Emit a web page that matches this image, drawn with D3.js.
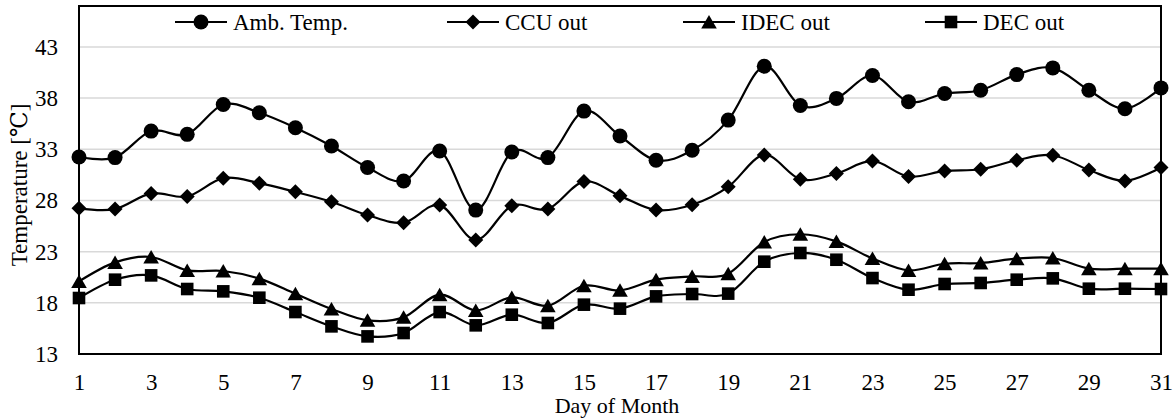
<!DOCTYPE html>
<html>
<head>
<meta charset="utf-8">
<script src="https://cdn.jsdelivr.net/npm/d3@7"></script>
<style>
    body { margin: 0; background: #fff; }
    svg text { font-family: "Times New Roman", "Liberation Serif", Tinos, "DejaVu Serif", serif; fill: #000; }
</style>
</head>
<body>
<div id="chart"></div>
<script>
const days = d3.range(1, 32);
const xTicks = [1, 3, 5, 7, 9, 11, 13, 15, 17, 19, 21, 23, 25, 27, 29, 31];
const yTicks = [13, 18, 23, 28, 33, 38, 43];

const ambTemp = [32.25, 32.19, 34.78, 34.46, 37.38, 36.57, 35.11, 33.32, 31.22, 29.9, 32.84, 27.06, 32.74, 32.19, 36.73, 34.3,
    31.93, 32.9, 35.85, 41.11, 37.28, 37.97, 40.21, 37.64, 38.45, 38.77, 40.3, 40.95, 38.77, 36.96, 39.0];
const ccuOut = [27.23, 27.16, 28.69, 28.39, 30.18, 29.69, 28.84, 27.87, 26.57, 25.83, 27.55, 24.14, 27.48, 27.16, 29.85, 28.45,
    27.06, 27.58, 29.33, 32.45, 30.08, 30.63, 31.86, 30.34, 30.89, 31.05, 31.93, 32.42, 30.98, 29.91, 31.22];
const idecOut = [20.09, 21.95, 22.48, 21.17, 21.11, 20.36, 18.89, 17.4, 16.29, 16.58, 18.8, 17.26, 18.53, 17.72, 19.67, 19.22,
    20.26, 20.58, 20.85, 23.94, 24.7, 24.0, 22.34, 21.17, 21.82, 21.89, 22.31, 22.38, 21.34, 21.34, 21.34];
const decOut = [18.47, 20.26, 20.68, 19.35, 19.12, 18.5, 17.1, 15.7, 14.72, 15.05, 17.1, 15.8, 16.84, 16.03, 17.82, 17.43,
    18.63, 18.86, 18.9, 22.02, 22.87, 22.21, 20.42, 19.28, 19.84, 19.94, 20.26, 20.39, 19.38, 19.38, 19.35];

const seriesNames = ['Amb. Temp.', 'CCU out', 'IDEC out', 'DEC out'];
const seriesValues = [ambTemp, ccuOut, idecOut, decOut];
const seriesMarkers = ['circle', 'diamond', 'triangle', 'square'];

const width = 1176, height = 418;
const margin = { top: 6, right: 15, bottom: 64, left: 79 };
const serif = '"Times New Roman", "Liberation Serif", Tinos, "DejaVu Serif", serif';

const svg = d3.select('#chart')
    .append('svg')
    .attr('width', width)
    .attr('height', height)
    .attr('font-family', serif);

const x = d3.scaleLinear().domain([1, 31]).range([margin.left, width - margin.right]);
const y = d3.scaleLinear().domain([13, 47]).range([height - margin.bottom, margin.top]);

// gridlines
svg.append('g')
    .selectAll('line')
    .data(yTicks.filter(t => t > 13))
    .join('line')
    .attr('x1', x(1)).attr('x2', x(31))
    .attr('y1', d => y(d)).attr('y2', d => y(d))
    .attr('stroke', '#d9d9d9')
    .attr('stroke-width', 1.5);

// axes (labels only, no tick marks)
const yAxis = svg.append('g')
    .attr('transform', `translate(${margin.left},0)`)
    .call(d3.axisLeft(y).tickValues(yTicks).tickSize(0).tickPadding(21))
    .attr('font-family', serif)
    .attr('font-size', 23);
yAxis.select('.domain').remove();

const xAxis = svg.append('g')
    .attr('transform', `translate(0,${height - margin.bottom})`)
    .call(d3.axisBottom(x).tickValues(xTicks).tickSize(0).tickPadding(20).tickFormat(d3.format('d')))
    .attr('font-family', serif)
    .attr('font-size', 23);
xAxis.select('.domain').remove();

// plot frame
svg.append('rect')
    .attr('x', x(1)).attr('y', y(47))
    .attr('width', x(31) - x(1)).attr('height', y(13) - y(47))
    .attr('fill', 'none')
    .attr('stroke', '#000')
    .attr('stroke-width', 2);

// axis titles
svg.append('text')
    .attr('x', 617).attr('y', 413)
    .attr('text-anchor', 'middle')
    .attr('font-size', 22)
    .text('Day of Month');

svg.append('text')
    .attr('transform', 'translate(27,185) rotate(-90)')
    .attr('text-anchor', 'middle')
    .attr('font-size', 23)
    .text('Temperature [℃]');

function markerPath(type) {
    switch (type) {
        case 'circle': return 'M7.5,0A7.5,7.5 0 1,1 -7.5,0A7.5,7.5 0 1,1 7.5,0Z';
        case 'diamond': return 'M0,-7.5L7.5,0L0,7.5L-7.5,0Z';
        case 'triangle': return 'M0,-7L7.8,6.5L-7.8,6.5Z';
        default: return 'M-6.3,-6.3H6.3V6.3H-6.3Z';
    }
}

const line = d3.line()
    .x((d, i) => x(days[i]))
    .y(d => y(d))
    .curve(d3.curveCardinal.tension(0));

const series = svg.append('g')
    .selectAll('g')
    .data(seriesValues)
    .join('g');

series.append('path')
    .attr('d', d => line(d))
    .attr('fill', 'none')
    .attr('stroke', '#000')
    .attr('stroke-width', 2.2);

series.each(function (values, k) {
    d3.select(this).selectAll('path.marker')
        .data(values)
        .join('path')
        .attr('class', 'marker')
        .attr('d', markerPath(seriesMarkers[k]))
        .attr('transform', (d, i) => `translate(${x(days[i])},${y(d)})`)
        .attr('fill', '#000');
});

// legend
const legendX = [175, 447, 683, 925];
const legend = svg.append('g')
    .selectAll('g')
    .data(seriesNames)
    .join('g')
    .attr('transform', (d, i) => `translate(${legendX[i]},22)`);

legend.append('line')
    .attr('x1', 0).attr('x2', 52)
    .attr('stroke', '#000')
    .attr('stroke-width', 2.2);

legend.append('path')
    .attr('d', (d, i) => markerPath(seriesMarkers[i]))
    .attr('transform', 'translate(26,0)')
    .attr('fill', '#000');

legend.append('text')
    .attr('x', 58).attr('y', 8)
    .attr('font-size', 23)
    .text(d => d);
</script>
</body>
</html>
